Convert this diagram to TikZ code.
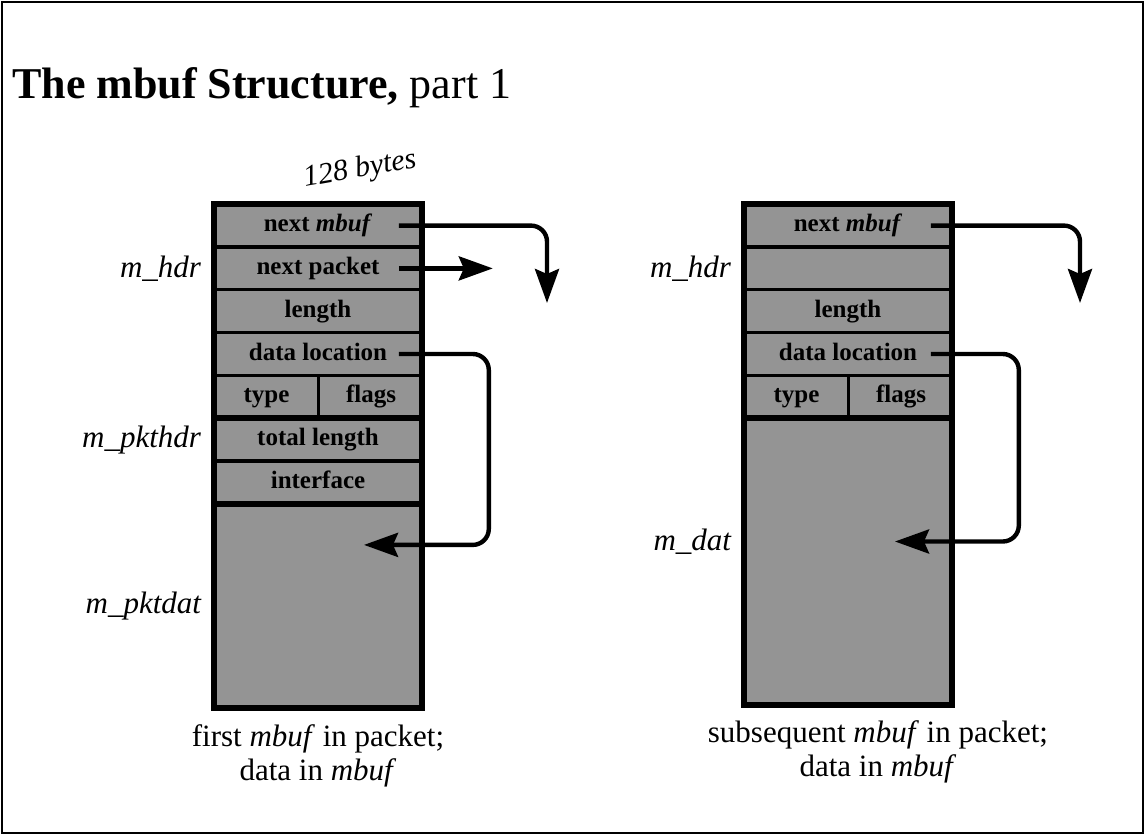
\documentclass[tikz,border=0pt]{standalone}
\usepackage{fontspec}
\setmainfont{Liberation Serif}
\usetikzlibrary{positioning,arrows.meta}
\definecolor{mbufgray}{gray}{0.58}

\tikzset{
  cell/.style={draw, line width=1.6pt, fill=mbufgray, minimum width=206pt,
    minimum height=41.2pt, inner sep=0pt, text height=17pt, text depth=5pt,
    font=\fontsize{25}{25}\selectfont\bfseries},
  halfcell/.style={cell, minimum width=103pt},
  boxline/.style={line width=5.5pt},
  sidelabel/.style={inner sep=0pt, font=\fontsize{31}{31}\selectfont\itshape},
  caption/.style={inner sep=0pt, align=center, font=\fontsize{31}{34}\selectfont},
  ptr/.style={line width=4.4pt, rounded corners=16pt,
    -{Stealth[length=34pt,width=24pt,inset=5pt]}}
}

\begin{document}
\begin{tikzpicture}[x=1pt,y=-1pt]
  \useasboundingbox (0,0) rectangle (1145,835);
  \draw[line width=2pt] (2,2) rectangle (1143,833);

  \node[anchor=base west, inner sep=0pt, font=\fontsize{44}{44}\selectfont] (title) at (12,98)
    {\textbf{The mbuf Structure,} part 1};

  % first mbuf
  \node[cell] (lnext) at (318,225.6) {next \textit{mbuf}};
  \node[cell, below=0pt of lnext] (lpacket) {next packet};
  \node[cell, below=0pt of lpacket] (llength) {length};
  \node[cell, below=0pt of llength] (ldataloc) {data location};
  \node[halfcell, below right=0pt of ldataloc.south west] (ltype) {type};
  \node[halfcell, right=0pt of ltype] (lflags) {flags};
  \node[cell, below right=0pt of ltype.south west] (ltotal) {total length};
  \node[cell, below=0pt of ltotal] (liface) {interface};
  \node[cell, below=0pt of liface, minimum height=202.6pt] (ldata) {};
  \draw[boxline] (lnext.north west) rectangle (ldata.south east);
  \draw[boxline] (ltype.south west) -- (lflags.south east);
  \draw[boxline] (liface.south west) -- (liface.south east);

  \node[rotate=10, inner sep=0pt, font=\fontsize{30}{30}\selectfont\itshape] (size) at (360,170) {128 bytes};

  \node[sidelabel, left=13pt of lpacket] (lhdr) {m\_hdr};
  \node[sidelabel, left=13pt of ltotal] (lpkthdr) {m\_pkthdr};
  \node[sidelabel, left=13pt of ldata] (lpktdat) {m\_pktdat};

  \coordinate (lnexttip) at (547,303);
  \coordinate (lpkttip) at ([xshift=71pt]lpacket.east);
  \coordinate (ldatatip) at ([xshift=46pt,yshift=61pt]ldata.center);
  \draw[ptr] ([xshift=-23pt]lnext.east) -| (lnexttip);
  \draw[ptr] ([xshift=-23pt]lpacket.east) -- (lpkttip);
  \draw[ptr] ([xshift=-23pt]ldataloc.east) -- ++(90,0) |- (ldatatip);

  \node[caption, below=16pt of ldata] (lcap) {first \textit{mbuf} in packet;\\data in \textit{mbuf}};

  % subsequent mbuf
  \node[cell] (rnext) at (848,225.6) {next \textit{mbuf}};
  \node[cell, below=0pt of rnext] (rblank) {};
  \node[cell, below=0pt of rblank] (rlength) {length};
  \node[cell, below=0pt of rlength] (rdataloc) {data location};
  \node[halfcell, below right=0pt of rdataloc.south west] (rtype) {type};
  \node[halfcell, right=0pt of rtype] (rflags) {flags};
  \node[cell, below right=0pt of rtype.south west, minimum height=285pt] (rdata) {};
  \draw[boxline] (rnext.north west) rectangle (rdata.south east);
  \draw[boxline] (rtype.south west) -- (rflags.south east);

  \node[sidelabel, left=13pt of rblank] (rhdr) {m\_hdr};
  \node[sidelabel, left=13pt of rdata, yshift=20pt] (rdat) {m\_dat};

  \coordinate (rnexttip) at (1080,303);
  \coordinate (rdatatip) at ([xshift=47pt,yshift=20pt]rdata.center);
  \draw[ptr] ([xshift=-21pt]rnext.east) -| (rnexttip);
  \draw[ptr] ([xshift=-21pt]rdataloc.east) -- ++(88,0) |- (rdatatip);

  \node[caption, below=16pt of rdata, xshift=30pt] (rcap) {subsequent \textit{mbuf} in packet;\\data in \textit{mbuf}};
\end{tikzpicture}
\end{document}
